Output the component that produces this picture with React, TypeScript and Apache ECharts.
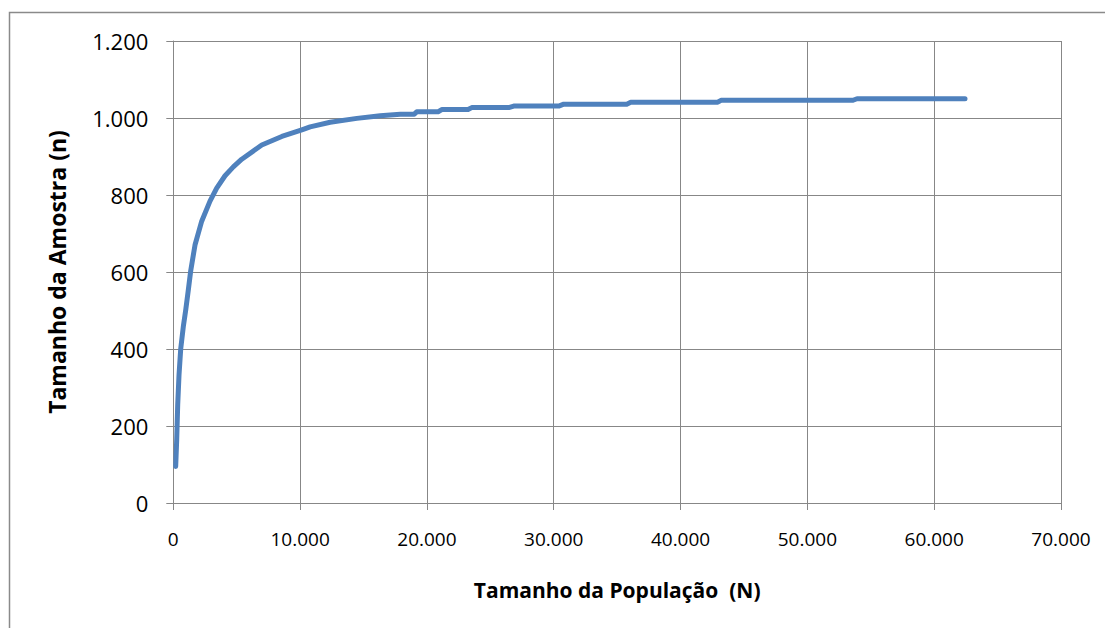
import React, { useEffect, useRef } from "react";
import * as echarts from "echarts";

const populationN = [
  189, 268, 347, 450, 584, 789, 978, 1183, 1372, 1711, 2240, 2894, 3422, 4080,
  4732, 5399, 6977, 8556, 10134, 10790, 12370, 14476, 16315, 17895, 19000, 19195,
  20874, 21166, 23240, 23532, 26450, 26845, 30394, 30788, 35756, 36072, 42933,
  43189, 53598, 53914, 62431,
];
const sampleN = [
  95, 164, 255, 332, 400, 458, 501, 553, 603, 670, 732, 784, 818, 850, 873, 893,
  930, 952, 969, 977, 989, 999, 1006, 1010, 1010, 1016, 1016, 1022, 1022, 1027,
  1027, 1031, 1031, 1036, 1036, 1041, 1041, 1046, 1046, 1050, 1050,
];

const xTitle = "Tamanho da População  (N)";
const yTitle = "Tamanho da Amostra (n)";

const fmt = (v: number) =>
  String(Math.round(v)).replace(/\B(?=(\d{3})+(?!\d))/g, ".");

export default function App() {
  const ref = useRef<HTMLDivElement>(null);
  useEffect(() => {
    if (!ref.current) return;
    const chart = echarts.init(ref.current, undefined, { renderer: "svg" });
    const grid = "#878787";
    chart.setOption({
      animation: false,
      backgroundColor: "#ffffff",
      grid: { left: 173.3, top: 41, right: 44, bottom: 125, containLabel: false },
      graphic: [
        {
          type: "rect",
          shape: { x: 9.5, y: 12.5, width: 1200, height: 700 },
          style: { fill: "none", stroke: "#8a8a8a", lineWidth: 1.5 },
          silent: true,
        },
      ],
      xAxis: {
        type: "value",
        min: 0,
        max: 70000,
        interval: 10000,
        name: xTitle,
        nameLocation: "middle",
        nameGap: 76,
        nameTextStyle: {
          fontFamily: "Open Sans",
          fontWeight: "bold",
          fontSize: 21,
          color: "#000",
        },
        axisLine: { show: true, lineStyle: { color: grid, width: 1 } },
        axisTick: { show: true, length: 7, lineStyle: { color: grid, width: 1 } },
        axisLabel: {
          margin: 26,
          fontFamily: "Open Sans",
          fontSize: 19,
          color: "#000",
          formatter: (v: number) => fmt(v),
        },
        splitLine: { show: true, lineStyle: { color: grid, width: 1 } },
      },
      yAxis: {
        type: "value",
        min: 0,
        max: 1200,
        interval: 200,
        name: yTitle,
        nameLocation: "middle",
        nameGap: 105,
        nameRotate: 90,
        nameTextStyle: {
          fontFamily: "Open Sans",
          fontWeight: "bold",
          fontSize: 23,
          color: "#000",
        },
        axisLine: { show: true, lineStyle: { color: grid, width: 1 } },
        axisTick: { show: true, length: 7, lineStyle: { color: grid, width: 1 } },
        axisLabel: {
          margin: 25,
          fontFamily: "Open Sans",
          fontSize: 22,
          color: "#000",
          formatter: (v: number) => fmt(v),
        },
        splitLine: { show: true, lineStyle: { color: grid, width: 1 } },
      },
      series: [
        {
          type: "line",
          data: populationN.map((n, i) => [n, sampleN[i]]),
          showSymbol: false,
          symbol: "none",
          smooth: false,
          lineStyle: { color: "#4f81bd", width: 5, cap: "round", join: "round" },
          silent: true,
        },
      ],
    });
    return () => chart.dispose();
  }, []);
  return (
    <div
      ref={ref}
      style={{ position: "fixed", left: 0, top: 0, width: 1105, height: 628, background: "#fff" }}
    />
  );
}
